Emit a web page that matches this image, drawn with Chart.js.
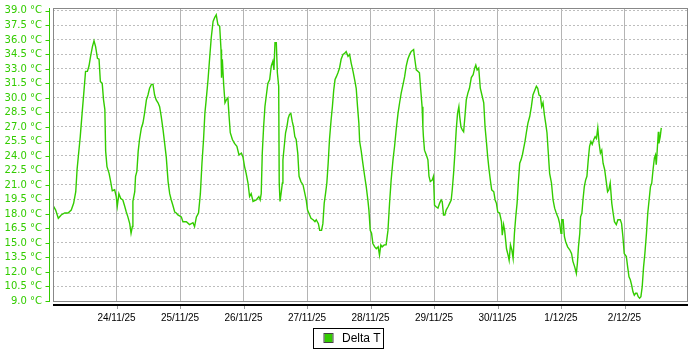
<!DOCTYPE html>
<html>
<head>
<meta charset="utf-8">
<title>Delta T</title>
<script src="https://cdn.jsdelivr.net/npm/chart.js@4.4.1/dist/chart.umd.min.js"></script>
<style>
  html, body { margin: 0; padding: 0; background: #fff; }
  #wrap { width: 700px; height: 350px; }
</style>
</head>
<body>
<div id="wrap"><canvas id="deltaTChart" width="700" height="350"></canvas></div>
<script>
const hoursSinceStart = [
    0, 1, 2, 3.1, 4.4, 5.7, 6.9, 7.8, 8.6, 9.1, 9.7, 10.3, 11, 11.7, 12.3, 13, 13.6, 14.2, 14.9, 15.5,
    16.1, 16.8, 17.4, 17.9, 18.6, 19.1, 19.6, 19.9, 20.4, 21.2, 21.8, 22.4, 23.3, 23.9,
    24.3, 24.9, 25.6, 26.4, 27.1, 27.7, 28.3, 29, 29.5, 30, 30.2, 30.9, 31.2, 31.7, 32.2, 32.7,
    33.4, 34, 34.6, 35.3, 35.9, 36.5, 37.2, 37.8, 38.4, 39, 39.7, 40.3, 40.9, 41.6, 42.2, 42.8,
    43.5, 44.1, 44.7, 45.3, 46, 46.6, 47.2,
    48.5, 49.1, 50.4, 51.6, 52.9, 53.5, 54.2, 55, 55.7, 56.3, 56.9, 57.4, 57.9, 58.6, 59.2, 59.8,
    60.5, 61.1, 61.7, 62.3, 63, 63.5, 63.7, 64, 64.5, 65, 65.5, 66.1, 66.5, 67, 67.8, 68.6, 69.5,
    70.3, 71.2, 71.8,
    72.4, 73, 73.7, 74.3, 74.9, 75.6, 76.8, 77.8, 78.3, 78.7, 79.1, 79.6, 80.1, 80.6, 81.2, 81.9,
    82.5, 83.1, 83.5, 83.9, 84.4, 84.8, 85.3, 85.5, 85.8, 86.2, 86.7, 86.9, 87.4, 87.9, 88.4, 88.9,
    89.4, 89.9, 90.4, 90.9, 91.4, 91.9, 92.5, 93, 93.7, 94.5, 95.2, 95.7,
    96.2, 96.7, 97.5, 98.3, 99, 99.5, 100.3, 100.8, 101.5, 102, 102.5, 103, 103.5, 104, 104.5,
    105.1, 105.6, 106.1, 106.6, 107.1, 107.7, 108.3, 108.9, 109.6, 110.2, 110.8, 111.5, 112.1,
    112.7, 113.4, 114, 114.6, 115.1, 115.6, 115.9, 116.5, 117.1, 117.8, 118.4, 119, 119.4, 119.9,
    120.4, 120.9, 121.6, 122.2, 122.9, 123.4, 123.9, 124.4, 125.2, 125.9, 126.6, 127.2, 127.8,
    128.5, 129.1, 129.7, 130.4, 131, 131.6, 132.3, 132.9, 133.5, 134.1, 134.8, 135.4, 136.3,
    136.7, 137.3, 137.9, 138.5, 139, 139.5, 139.8, 140, 140.4, 141.1, 141.7, 142.1, 142.6, 143.3,
    143.8,
    144.2, 144.8, 145.5, 146.1, 146.7, 147.1, 147.6, 148.1, 148.6, 149.3, 149.9, 150.5, 150.9,
    151.4, 151.9, 152.4, 152.9, 153.4, 153.7, 154.2, 154.7, 155.2, 155.7, 156.2, 156.8, 157.4,
    158.1, 158.8, 159.4, 159.8, 160.3, 160.9, 161.5, 162.2, 162.8, 163.3, 163.8, 164.3, 164.8,
    165.3, 165.8, 166.6, 167.1, 167.6,
    168.1, 168.8, 169.5, 169.8, 170.3, 170.7, 171.4, 172, 172.4, 172.9, 173.4, 173.9, 174.4,
    174.9, 175.4, 175.9, 176.4, 176.9, 177.4, 177.9, 178.4, 178.9, 179.5, 180.2, 180.8, 181.4,
    182.1, 182.7, 183.2, 183.7, 184.2, 184.7, 185.2, 185.7, 186.2, 186.7, 187.2, 187.7, 188.4,
    189, 189.6, 190.2, 191, 191.5,
    192, 192.3, 192.8, 193.3, 193.8, 194.5, 195.3, 196, 196.5, 197.2, 197.8, 198.2, 198.6, 199.1,
    199.4, 199.9, 200.3, 200.8, 201.3, 201.8, 202.3, 202.8, 203.3, 203.8, 204.4, 204.9, 205.4,
    205.9, 206.4, 206.9, 207.4, 207.9, 208.5, 209.1, 209.6, 210.1, 210.6, 211.2, 211.7, 212.2,
    212.9, 213.5, 214.4, 214.9, 215.4, 215.9,
    216.7, 217.2, 217.7, 218.2, 218.7, 219.2, 219.7, 220.2, 220.7, 221.2, 221.7, 222.2, 222.7,
    223.2, 223.7, 224.3, 224.8, 225.3, 225.8, 226.3, 226.8, 227.3, 227.7, 228, 228.3, 228.8, 229,
    229.5, 229.9
];
const deltaT = [
    18.9, 18.4, 17.55, 17.9, 18.1, 18.1, 18.4, 19.1, 20.3, 22.6, 24.3, 26.0, 28.4, 30.7, 32.75, 32.75, 33.3, 34.3, 35.3, 35.9,
    35.3, 34.1, 34.0, 31.7, 31.5, 29.8, 28.8, 24.5, 22.9, 22.2, 21.35, 20.4, 20.5, 19.8,
    18.8, 20.1, 19.6, 19.45, 18.8, 18.2, 17.7, 17.0, 16.0, 16.7, 19.3, 20.3, 21.9, 22.4, 24.5, 25.7,
    26.9, 27.4, 28.4, 29.8, 30.3, 31.0, 31.4, 31.4, 30.3, 29.8, 29.5, 29.1, 28.1, 26.7, 25.3, 23.9,
    21.35, 20.1, 19.45, 18.9, 18.2, 18.1, 17.9,
    17.7, 17.2, 17.2, 16.9, 17.1, 16.7, 17.7, 18.1, 20.1, 23.25, 25.7, 28.4, 29.8, 31.9, 34.1, 36.2,
    37.9, 38.3, 38.6, 37.6, 37.4, 35.0, 32.1, 34.0, 31.4, 29.5, 29.8, 30.0, 28.3, 26.4, 25.7, 25.3, 25.0,
    24.1, 24.3, 23.9,
    22.9, 22.2, 21.2, 19.8, 20.1, 19.3, 19.45, 19.8, 19.45, 20.1, 24.3, 27.0, 29.1, 30.2, 31.5, 31.9,
    33.3, 33.8, 32.9, 35.7, 35.7, 32.6, 31.2, 21.2, 19.3, 20.1, 21.2, 23.6, 25.0, 26.4, 27.0, 27.9,
    28.3, 28.4, 27.6, 27.0, 26.0, 25.7, 24.3, 21.9, 21.35, 21.0, 20.1, 19.45,
    18.4, 18.1, 17.55, 17.4, 17.2, 17.4, 17.0, 16.3, 16.3, 17.0, 19.1, 20.1, 21.2, 23.25, 25.7,
    27.7, 29.1, 30.8, 31.9, 32.2, 32.6, 33.1, 34.0, 34.5, 34.6, 34.8, 34.3, 34.5,
    33.6, 32.75, 31.9, 31.0, 29.1, 27.4, 25.5, 24.5, 23.25, 21.9, 20.8, 19.45, 18.4, 16.3,
    16.0, 14.95, 14.6, 14.4, 14.6, 13.75, 14.8, 14.6, 14.8, 14.8, 16.3, 19.1, 21.5,
    23.6, 25.0, 26.7, 28.4, 29.5, 30.5, 31.4, 32.2, 33.3, 34.0, 34.5, 34.8, 35.0,
    34.1, 32.9, 32.75, 32.6, 30.8, 29.1, 27.0, 26.0, 24.6, 24.1, 23.6, 21.9, 21.35, 21.5,
    21.9,
    18.9, 18.75, 18.6, 19.1, 19.45, 19.3, 17.9, 17.9, 18.4, 18.75, 19.1, 19.45, 20.5,
    22.2, 24.3, 26.7, 28.4, 29.1, 28.1, 27.0, 26.7, 26.5, 28.1, 29.8, 30.5, 31.0,
    32.1, 32.4, 33.1, 33.4, 32.9, 33.1, 31.0, 30.2, 29.5, 27.0, 25.5, 23.9, 22.6,
    21.5, 20.5, 20.3, 19.45, 19.1,
    18.2, 18.1, 17.2, 15.8, 16.9, 16.3, 14.4, 13.75, 13.2, 14.8, 14.3, 13.4, 16.0,
    17.7, 19.1, 21.35, 23.25, 23.6, 24.1, 24.8, 25.5, 26.4, 27.4, 28.1, 29.1, 30.3,
    30.8, 31.2, 31.0, 30.3, 30.2, 29.1, 29.5, 28.3, 27.4, 26.4, 24.3, 22.2, 21.2,
    19.45, 18.6, 18.1, 17.55, 17.0,
    16.0, 17.4, 17.4, 15.65, 15.1, 14.6, 14.3, 13.9, 13.1, 12.5, 11.85, 12.9, 14.6, 16.0,
    17.7, 18.1, 19.45, 20.8, 21.5, 21.9, 23.6, 25.0, 25.5, 25.2, 25.7, 26.0, 25.8,
    26.9, 25.3, 24.3, 24.6, 23.25, 22.6, 21.35, 20.3, 20.5, 21.2, 19.1, 18.1, 17.2,
    16.9, 17.4, 17.4, 17.0, 15.65, 13.9,
    13.6, 12.5, 11.5, 11.2, 10.65, 9.95, 9.6, 9.8, 9.8, 9.45, 9.3, 9.45, 10.5,
    12.5, 13.9, 16.0, 18.1, 19.45, 20.8, 21.2, 22.6, 23.8, 24.1, 23.1, 24.3, 26.5, 25.3,
    26.0, 26.9
];
const dateLabels = ['24/11/25', '25/11/25', '26/11/25', '27/11/25', '28/11/25', '29/11/25', '30/11/25', '1/12/25', '2/12/25'];
const dateTickHours = [24, 48, 72, 96, 120, 144, 168, 192, 216];
const tempTicks = [9.0, 10.5, 12.0, 13.5, 15.0, 16.5, 18.0, 19.5, 21.0, 22.5, 24.0, 25.5, 27.0, 28.5, 30.0, 31.5, 33.0, 34.5, 36.0, 37.5, 39.0];

const GREEN = '#33cc00';

// plot frame, offset axis lines and boxed legend (JFreeChart look)
const framePlugin = {
    id: 'frame',
    afterDraw(chart) {
        const {ctx, chartArea: a, scales} = chart;
        ctx.save();
        // plot border
        ctx.strokeStyle = '#888888';
        ctx.lineWidth = 1;
        ctx.strokeRect(Math.round(a.left) + 0.5, Math.round(a.top) + 0.5,
            Math.round(a.right - a.left) - 1, Math.round(a.bottom - a.top));
        // y axis line + ticks
        ctx.strokeStyle = GREEN;
        ctx.beginPath();
        const ax = Math.round(a.left) - 3.5;
        ctx.moveTo(ax, a.top);
        ctx.lineTo(ax, a.bottom + 1);
        scales.y.ticks.forEach(t => {
            const py = Math.round(scales.y.getPixelForValue(t.value)) + 0.5;
            ctx.moveTo(ax - 4, py);
            ctx.lineTo(ax, py);
        });
        ctx.stroke();
        // x axis line + ticks
        const ay = Math.round(a.bottom) + 4;
        ctx.strokeStyle = '#000000';
        ctx.lineWidth = 2;
        ctx.beginPath();
        ctx.moveTo(a.left, ay);
        ctx.lineTo(a.right, ay);
        ctx.stroke();
        ctx.strokeStyle = '#999999';
        ctx.lineWidth = 1;
        ctx.beginPath();
        scales.x.ticks.forEach(t => {
            const px = Math.round(scales.x.getPixelForValue(t.value)) + 0.5;
            ctx.moveTo(px, ay + 1);
            ctx.lineTo(px, ay + 4);
        });
        ctx.stroke();

        // legend
        const ds = chart.data.datasets[0];
        ctx.font = '12px "Liberation Sans", Arial, sans-serif';
        const tw = ctx.measureText(ds.label).width;
        const boxW = Math.round(11 + 8 + 10 + tw + 2);
        const bx = Math.round(348 - boxW / 2) + 0.5;
        const by = 328.5;
        ctx.strokeStyle = '#000000';
        ctx.strokeRect(bx, by, boxW, 20);
        ctx.fillStyle = ds.borderColor;
        ctx.fillRect(bx + 11, by + 5.5, 8, 8);
        ctx.strokeStyle = '#444444';
        ctx.strokeRect(bx + 10.5, by + 5, 9, 9);
        ctx.fillStyle = '#000000';
        ctx.textBaseline = 'middle';
        ctx.textAlign = 'left';
        ctx.fillText(ds.label, bx + 28.5, by + 10.5);
        ctx.restore();
    }
};

const ctx = document.getElementById('deltaTChart').getContext('2d');
new Chart(ctx, {
    type: 'line',
    data: {
        datasets: [{
            label: 'Delta T',
            data: hoursSinceStart.map((h, i) => ({x: h, y: deltaT[i]})),
            borderColor: GREEN,
            backgroundColor: GREEN,
            borderWidth: 1.4,
            pointRadius: 0,
            tension: 0,
            fill: false,
        }]
    },
    options: {
        responsive: false,
        animation: false,
        devicePixelRatio: 1,
        layout: { padding: { left: 0, right: 12, top: 8, bottom: 24 } },
        plugins: {
            legend: { display: false },
            tooltip: { enabled: false }
        },
        scales: {
            x: {
                type: 'linear',
                min: 0,
                max: 240,
                afterFit: s => { s.height = 25; s.paddingLeft = 0; s.paddingRight = 0; },
                afterBuildTicks: s => { s.ticks = dateTickHours.map(v => ({value: v})); },
                ticks: {
                    autoSkip: false,
                    maxRotation: 0,
                    padding: 11,
                    color: '#000000',
                    font: { family: '"Liberation Sans", Arial, sans-serif', size: 10 },
                    callback: v => dateLabels[dateTickHours.indexOf(v)]
                },
                grid: { color: '#b4b4b4', lineWidth: 1, drawTicks: false },
                border: { display: false }
            },
            y: {
                type: 'linear',
                min: 9,
                max: 39.3,
                afterFit: s => { s.width = 53; s.paddingTop = 0; s.paddingBottom = 0; },
                afterBuildTicks: s => { s.ticks = tempTicks.map(v => ({value: v})); },
                ticks: {
                    autoSkip: false,
                    padding: 11,
                    color: GREEN,
                    font: { family: '"DejaVu Sans", sans-serif', size: 10 },
                    callback: v => v.toFixed(1) + ' °C'
                },
                grid: { color: '#bdbdbd', lineWidth: 1, drawTicks: false },
                border: { display: false, dash: [2, 2] }
            }
        }
    },
    plugins: [framePlugin]
});
</script>
</body>
</html>
